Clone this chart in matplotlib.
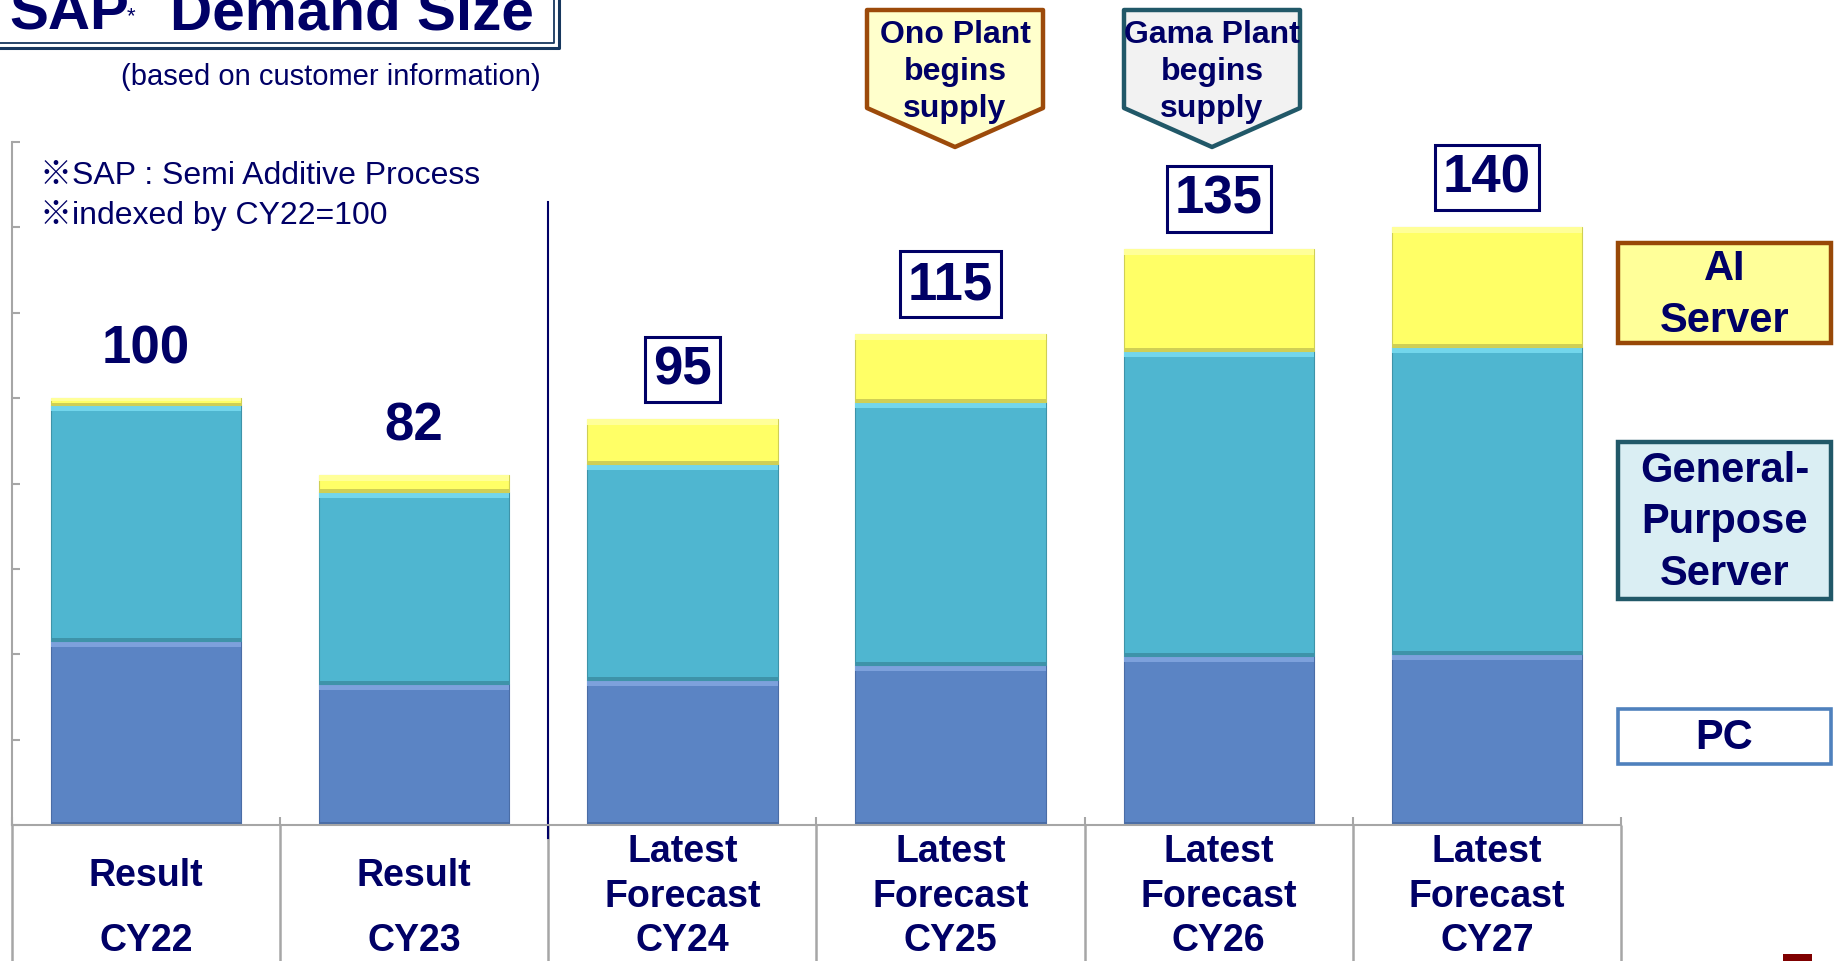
import numpy as np
import matplotlib.pyplot as plt
from matplotlib.patches import Rectangle, Polygon
from matplotlib.lines import Line2D
from matplotlib.transforms import blended_transform_factory

plt.rcParams['font.family'] = ['Liberation Sans', 'Noto Sans CJK JP', 'DejaVu Sans']

# data (index, CY22 = 100)
years = ["CY22", "CY23", "CY24", "CY25", "CY26", "CY27"]
kinds = [["Result"], ["Result"], ["Latest", "Forecast"], ["Latest", "Forecast"],
         ["Latest", "Forecast"], ["Latest", "Forecast"]]
pc = [43, 33, 34, 37.5, 39.5, 40]
gp = [55.5, 45, 50.5, 61.5, 71.5, 72]
ai = [1.5, 4, 10.5, 16, 24, 28]
totals = [100, 82, 95, 115, 135, 140]
boxed = [False, False, True, True, True, True]
legend_names = ["AI\nServer", "General-\nPurpose\nServer", "PC"]
callouts = ["Ono Plant\nbegins\nsupply", "Gama Plant\nbegins\nsupply"]

NAVY = '#000066'
GRAY = '#A6A6A6'
W, H = 1839, 962


def fx(p):
    return p / W


def fy(p):
    return 1 - p / H


fig = plt.figure(figsize=(W / 100, H / 100), dpi=100)
ax = fig.add_axes([fx(12), fy(826), fx(1621 - 12), (826 - 143) / H])
ax.set_facecolor('none')

# stacked bars with a simple bevel look
x = np.arange(len(years))
bottom = np.zeros(len(years))
segments = [
    (pc, '#5B84C4', '#7DA1DC', '#4A6DA6'),
    (gp, '#4FB6D0', '#72D6EC', '#3E93A9'),
    (ai, '#FFFF66', '#FFFF99', '#CFCF55'),
]
bw = 0.71
for vals, col, hi, lo in segments:
    vals = np.array(vals, dtype=float)
    ax.bar(x, vals, bw, bottom=bottom, color=col, edgecolor=lo, linewidth=0.8)
    strip = np.minimum(1.4, vals * 0.4)
    ax.bar(x, strip, bw, bottom=bottom + vals - strip, color=hi, linewidth=0)
    ax.bar(x, strip * 0.5, bw, bottom=bottom, color=lo, linewidth=0)
    bottom += vals

# value labels
for i, t in enumerate(totals):
    kw = {}
    if boxed[i]:
        kw['bbox'] = dict(boxstyle='square,pad=0.15', fc='white', ec=NAVY, lw=2.2)
    ax.text(i, t + 11.7, str(t), ha='center', va='center', fontsize=38,
            fontweight='bold', color=NAVY, **kw)

ax.set_xlim(-0.5, len(years) - 0.5)
ax.set_ylim(0, 160)
for s in ['top', 'right']:
    ax.spines[s].set_visible(False)
for s in ['left', 'bottom']:
    ax.spines[s].set_color(GRAY)
    ax.spines[s].set_linewidth(1.5)
ax.set_yticks(np.arange(0, 161, 20))
ax.set_xticks(np.arange(-0.5, len(years), 1))
ax.set_xticklabels([])
ax.set_yticklabels([])
ax.tick_params(direction='in', length=6, width=1.5, color=GRAY)

# table-like category cells below the axis
ax.vlines(np.arange(-0.5, len(years), 1), -40, 0, colors=GRAY, lw=1.8, clip_on=False)
# separator between results and forecasts
ax.plot([1.5, 1.5], [-3, 146], color=NAVY, lw=1.5, clip_on=False)

bt = blended_transform_factory(ax.transData, fig.transFigure)
for i, (k, yr) in enumerate(zip(kinds, years)):
    if len(k) == 1:
        ax.text(i, fy(886), k[0], transform=bt, ha='center', va='baseline',
                fontsize=27, fontweight='bold', color=NAVY)
    else:
        for line, yy in zip(k, [862, 907]):
            ax.text(i, fy(yy), line, transform=bt, ha='center', va='baseline',
                    fontsize=27, fontweight='bold', color=NAVY)
    ax.text(i, fy(951), yr, transform=bt, ha='center', va='baseline',
            fontsize=27, fontweight='bold', color=NAVY)

# title with double-line box
fig.text(fx(9), fy(29), "SAP", fontsize=42, fontweight='bold', color=NAVY, va='baseline')
fig.text(fx(127), fy(22), "*", fontsize=16, color=NAVY, va='baseline')
fig.text(fx(170), fy(29), "Demand Size", fontsize=42, fontweight='bold', color=NAVY,
         va='baseline')
fig.add_artist(Line2D([0, fx(559), fx(559)], [fy(48.5), fy(48.5), 1],
                      transform=fig.transFigure, color='#17375E', lw=2.2))
fig.add_artist(Line2D([0, fx(553.5), fx(553.5)], [fy(44), fy(44), 1],
                      transform=fig.transFigure, color='#17375E', lw=1.3))

fig.text(fx(541), fy(77), "(based on customer information)", fontsize=21, color=NAVY,
         ha='right', va='center')
fig.text(fx(40), fy(175.5), "※SAP : Semi Additive Process", fontsize=23, color=NAVY,
         va='center')
fig.text(fx(40), fy(215.5), "※indexed by CY22=100", fontsize=23, color=NAVY,
         va='center')

# plant callouts (downward pentagons)
callout_style = [(955, '#FFFFCC', '#9C4A0A'), (1212, '#F2F2F2', '#215868')]
for txt, (cx, fc, ec) in zip(callouts, callout_style):
    pts = [(cx - 88, 11), (cx + 88, 11), (cx + 88, 109), (cx, 148), (cx - 88, 109)]
    fig.add_artist(Polygon([(fx(a), fy(b)) for a, b in pts], closed=True,
                           transform=fig.transFigure, fc=fc, ec=ec, lw=3.2,
                           joinstyle='round'))
    fig.text(fx(cx), fy(72), txt, ha='center', va='center', fontsize=23,
             fontweight='bold', color=NAVY, linespacing=1.3)

# legend boxes on the right
legend_style = [(244, 344, '#FFFF99', '#984807', 3.2),
                (443, 600, '#DAEEF3', '#215868', 3.2),
                (710, 765, 'white', '#4F81BD', 2.6)]
for name, (y0, y1, fc, ec, lw) in zip(legend_names, legend_style):
    fig.add_artist(Rectangle((fx(1618), fy(y1)), fx(1831 - 1618), (y1 - y0) / H,
                             transform=fig.transFigure, fc=fc, ec=ec, lw=lw))
    fig.text(fx(1724.5), fy((y0 + y1) / 2 + 1), name, ha='center', va='center',
             fontsize=30, fontweight='bold', color=NAVY, linespacing=1.36)

# page mark at bottom right
fig.add_artist(Rectangle((fx(1783), 0), fx(29), 7 / H, transform=fig.transFigure,
                         fc='#7F0000', ec='none'))

fig.savefig('out.png', dpi=100)
